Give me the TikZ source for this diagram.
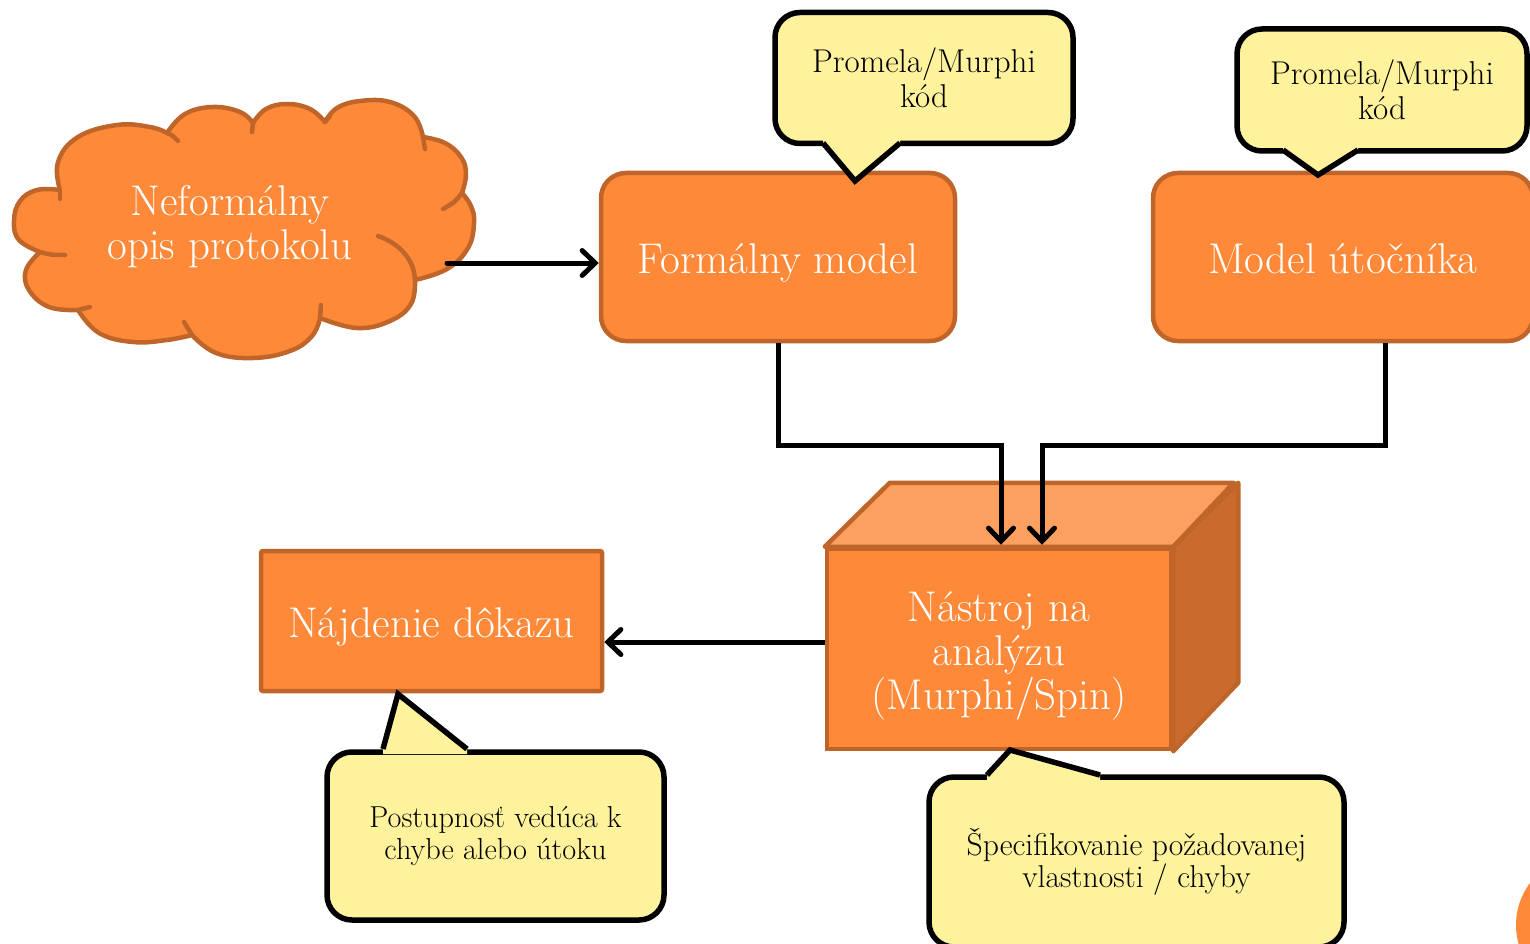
\documentclass[tikz,border=0pt]{standalone}
\usetikzlibrary{arrows.meta,calc}
\definecolor{boxfill}{RGB}{253,137,57}
\definecolor{boxline}{RGB}{192,101,42}
\definecolor{boxtop}{RGB}{252,160,96}
\definecolor{boxside}{RGB}{200,107,45}
\definecolor{notefill}{RGB}{255,242,157}
\tikzset{
  x=1pt, y=-1pt,
  bigtext/.style={font=\fontsize{43}{44}\selectfont, text=white, align=center},
  orangebox/.style={draw=boxline, fill=boxfill, line width=4.5pt, bigtext},
  oneline/.style={text height=32pt, text depth=0pt},
  notebox/.style={draw=black, fill=notefill, line width=5.5pt, rounded corners=25pt, align=center, text=black},
  notetail/.style={draw=black, line width=5.5pt, line join=miter},
  midnote/.style={font=\fontsize{33}{35}\selectfont},
  smallnote/.style={font=\fontsize{30.3}{31.5}\selectfont},
  crease/.style={draw=boxline, line width=4.5pt, line cap=round},
  conn/.style={draw=black, line width=5pt, line join=miter,
    -{Straight Barb[length=13pt,width=25pt,line cap=round]}},
}
\begin{document}
\begin{tikzpicture}
\useasboundingbox (0,0) rectangle (1530,944);

% informal description cloud, traced puff by puff
\filldraw[draw=boxline, fill=boxfill, line width=4.5pt, line join=round]
  plot[smooth, tension=0.7] coordinates {(60,190) (58,162) (78,137) (117,125) (150,127) (167,133)}
  -- plot[smooth, tension=0.7] coordinates {(167,133) (185,114) (213,107) (240,112) (253,123)}
  -- plot[smooth, tension=0.7] coordinates {(253,123) (266,109) (287,104) (310,109) (325,122)}
  -- plot[smooth, tension=0.7] coordinates {(325,122) (337,108) (360,101) (390,102) (414,116) (423,137)}
  -- plot[smooth, tension=0.7] coordinates {(423,137) (445,143) (461,157) (466,174) (462,193)}
  -- plot[smooth, tension=0.7] coordinates {(462,193) (471,206) (474,223) (468,248) (447,269) (415,280)}
  -- plot[smooth, tension=0.7] coordinates {(415,280) (411,304) (390,321) (357,328) (320,318)}
  -- plot[smooth, tension=0.7] coordinates {(320,318) (312,336) (290,351) (253,358) (216,353) (192,335)}
  -- plot[smooth, tension=0.7] coordinates {(192,335) (167,340) (133,342) (99,333) (78,310)}
  -- plot[smooth, tension=0.7] coordinates {(78,310) (49,307) (29,290) (26,270) (40,252)}
  -- plot[smooth, tension=0.7] coordinates {(40,252) (19,240) (14,221) (20,201) (37,190) (60,190)}
  -- cycle;
% creases where the puffs run into each other
\draw[crease] (60,190) -- (60,199);
\draw[crease] (167,133) .. controls (172,135) .. (178,141);
\draw[crease] (253,123) -- (252,132);
\draw[crease] (325,122) -- (330,116);
\draw[crease] (423,137) -- (425,149);
\draw[crease] (462,193) .. controls (455,202) .. (443,209);
\draw[crease] (415,280) .. controls (414,258) and (398,243) .. (378,236);
\draw[crease] (320,318) -- (321,305);
\draw[crease] (192,335) -- (184,322);
\draw[crease] (78,310) -- (90,307);
\draw[crease] (40,252) .. controls (52,255) .. (65,255);
\node[bigtext] (cloud) at (230,227) {Neformálny\\opis protokolu};
\coordinate (cloudout) at (447,263);

% formal model and attacker model
\node[orangebox, oneline, rounded corners=25pt, minimum width=354, minimum height=168]
  (formal) at (778,257) {Formálny model};
\node[orangebox, oneline, rounded corners=25pt, minimum width=380, minimum height=168]
  (attacker) at (1343,257) {Model útočníka};

% analysis tool drawn as a box with top and side faces
\node[orangebox, minimum width=344, minimum height=200, inner sep=0pt]
  (tool) at (999,649) {};
\filldraw[draw=boxline, fill=boxtop, line width=4.5pt, line join=round]
  (tool.north west) -- ++(65,-64) -- ++(344,0) -- (tool.north east) -- cycle;
\filldraw[draw=boxline, fill=boxside, line width=4.5pt, line join=round]
  (tool.north east) -- ++(65,-64) -- ++(0,200) -- (tool.south east) -- cycle;
\node[bigtext] (tooltext) at (999,656) {Nástroj na\\analýzu\\(Murphi/Spin)};

% result box
\node[orangebox, oneline, rounded corners=2pt, minimum width=341, minimum height=140]
  (found) at (431.5,621) {Nájdenie dôkazu};

% callouts
\node[notebox, midnote, minimum width=298, minimum height=131] (code1) at (924,78) {Promela/Murphi\\kód};
\coordinate (code1a) at (823,143); \coordinate (code1tip) at (855,181);
\coordinate (code1b) at (900,143);
\fill[notefill] ($(code1a)+(0,-5)$) -- (code1a) -- (code1tip) -- (code1b) -- ($(code1b)+(0,-5)$) -- cycle;
\draw[notetail] (code1a) -- (code1tip) -- (code1b);

\node[notebox, midnote, minimum width=290, minimum height=122] (code2) at (1382,90) {Promela/Murphi\\kód};
\coordinate (code2a) at (1283,150); \coordinate (code2tip) at (1318,175);
\coordinate (code2b) at (1358,150);
\fill[notefill] ($(code2a)+(0,-5)$) -- (code2a) -- (code2tip) -- (code2b) -- ($(code2b)+(0,-5)$) -- cycle;
\draw[notetail] (code2a) -- (code2tip) -- (code2b);

\node[notebox, smallnote, minimum width=337, minimum height=168] (trace) at (495.5,836) {Postupnosť vedúca k\\chybe alebo útoku};
\coordinate (tracea) at (383,749); \coordinate (tracetip) at (398,694);
\coordinate (traceb) at (467,749);
\fill[notefill] ($(tracea)+(0,5)$) -- (tracea) -- (tracetip) -- (traceb) -- ($(traceb)+(0,5)$) -- cycle;
\draw[notetail] (tracea) -- (tracetip) -- (traceb);

\node[notebox, font=\fontsize{31.6}{32}\selectfont, minimum width=415, minimum height=170] (spec) at (1136.5,862) {Špecifikovanie požadovanej\\vlastnosti / chyby};
\coordinate (speca) at (987,775); \coordinate (spectip) at (1010,750);
\coordinate (specb) at (1100,775);
\fill[notefill] ($(speca)+(0,5)$) -- (speca) -- (spectip) -- (specb) -- ($(specb)+(0,5)$) -- cycle;
\draw[notetail] (speca) -- (spectip) -- (specb);

% connectors
\draw[conn, line cap=round] (cloudout) -- (cloudout -| formal.west);
\draw[conn] (formal.south) -- ++(0,102) -| ($(tool.north)+(2,-2)$);
\draw[conn] ($(attacker.south)+(42,0)$) -- ++(0,102) -| ($(tool.north)+(43,-2)$);
\coordinate (toolout) at ($(tool.west)+(0,-7)$);
\draw[conn] (toolout) -- (toolout -| found.east);

% page decoration in the corner
\fill[boxfill] (1586,925) circle (70);
\end{tikzpicture}
\end{document}
